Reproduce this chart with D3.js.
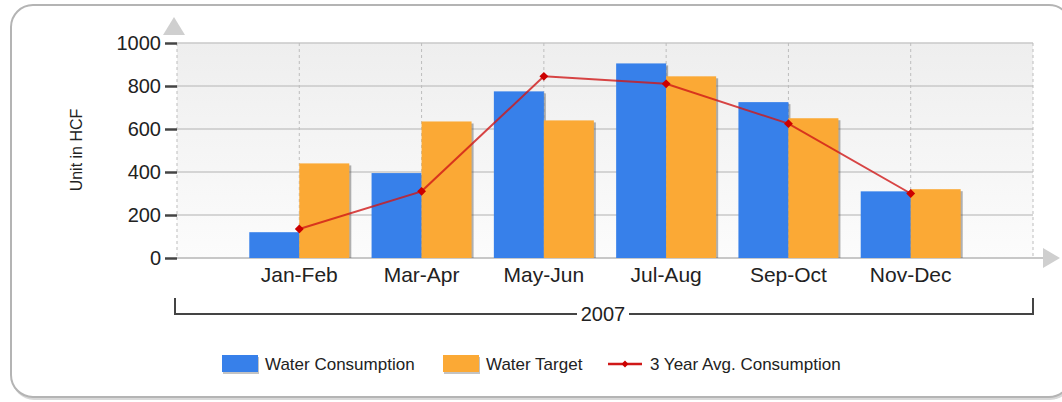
<!doctype html>
<html lang="en">
<head>
  <meta charset="utf-8">
  <title>Water Consumption 2007</title>
  <style>
    body { margin: 0; background: #fff; }
    #chart { width: 1062px; height: 402px; }
    text { font-family: "Liberation Sans", Arial, sans-serif; fill: #222; }
    .grid-h { stroke: #c8c8c8; stroke-width: 1.5; }
    .grid-v { stroke: #bdbdbd; stroke-dasharray: 3,3; }
  </style>
</head>
<body>
  <div id="chart"></div>
  <script src="https://d3js.org/d3.v7.min.js"></script>
  <script>
    // data
    const periods = ['Jan-Feb', 'Mar-Apr', 'May-Jun', 'Jul-Aug', 'Sep-Oct', 'Nov-Dec'];
    const consumption = [120, 395, 775, 905, 725, 310];
    const target = [440, 635, 640, 845, 650, 320];
    const avg3yr = [135, 310, 845, 810, 625, 300];
    const yTicks = [0, 200, 400, 600, 800, 1000];
    const yearLabel = '2007';
    const seriesNames = ['Water Consumption', 'Water Target', '3 Year Avg. Consumption'];

    const blue = '#3780ea', orange = '#fba935', red = '#d01818';

    const W = 1062, H = 402;
    const plot = { left: 177, right: 1033, top: 43, bottom: 258 };

    const svg = d3.select('#chart').append('svg')
      .attr('width', W).attr('height', H);

    const defs = svg.append('defs');
    const grad = defs.append('linearGradient').attr('id', 'bg')
      .attr('x1', 0).attr('y1', 0).attr('x2', 0).attr('y2', 1);
    grad.append('stop').attr('offset', '0%').attr('stop-color', '#eeeeee');
    grad.append('stop').attr('offset', '100%').attr('stop-color', '#fcfcfc');

    // outer frame with a soft shadow
    svg.append('rect')
      .attr('x', 12).attr('y', 7).attr('width', 1060).attr('height', 393)
      .attr('rx', 22).attr('fill', '#d8d8d8');
    svg.append('rect')
      .attr('x', 11).attr('y', 5).attr('width', 1060).attr('height', 392)
      .attr('rx', 22).attr('fill', '#fff')
      .attr('stroke', '#b4b4b4').attr('stroke-width', 2);

    const x = d3.scalePoint().domain(periods)
      .range([plot.left, plot.right]).padding(1);
    const y = d3.scaleLinear().domain([0, 1000])
      .range([plot.bottom, plot.top]);
    const barW = 50;

    // plot background
    svg.append('rect')
      .attr('x', plot.left).attr('y', plot.top)
      .attr('width', plot.right - plot.left).attr('height', plot.bottom - plot.top)
      .attr('fill', 'url(#bg)');

    // horizontal grid
    svg.append('g').selectAll('line')
      .data(yTicks.filter(d => d > 0))
      .join('line')
      .attr('class', 'grid-h')
      .attr('x1', plot.left).attr('x2', plot.right)
      .attr('y1', d => y(d)).attr('y2', d => y(d));

    // vertical dashed grid at each category and the right edge
    svg.append('g').selectAll('line')
      .data(periods.map(p => x(p)).concat([plot.left, plot.right]))
      .join('line')
      .attr('class', 'grid-v')
      .attr('x1', d => d).attr('x2', d => d)
      .attr('y1', plot.top).attr('y2', plot.bottom);

    // y axis: ticks and labels
    const yAxis = svg.append('g')
      .attr('transform', `translate(${plot.left},0)`)
      .call(d3.axisLeft(y).tickValues(yTicks).tickFormat(d3.format('d'))
        .tickSize(12).tickPadding(4));
    yAxis.select('.domain').remove();
    yAxis.selectAll('.tick line').attr('stroke', '#444').attr('stroke-width', 2.5);
    yAxis.selectAll('.tick text')
      .attr('font-size', 20).attr('fill', '#222')
      .style('font-family', '"Liberation Sans", Arial, sans-serif');

    // y axis up arrow
    svg.append('path')
      .attr('d', `M${plot.left - 3},17 L${plot.left + 8},35 L${plot.left - 14},35 Z`)
      .attr('fill', '#cfcfcf');

    // x axis line + arrow
    svg.append('line')
      .attr('x1', plot.left).attr('x2', plot.right + 10)
      .attr('y1', plot.bottom).attr('y2', plot.bottom)
      .attr('stroke', '#c8c8c8').attr('stroke-width', 2);
    svg.append('path')
      .attr('d', `M1043,${plot.bottom - 10} L1060,${plot.bottom} L1043,${plot.bottom + 10} Z`)
      .attr('fill', '#cfcfcf');

    // y axis title
    svg.append('text')
      .attr('transform', 'translate(82,150) rotate(-90)')
      .attr('text-anchor', 'middle')
      .attr('font-size', 16)
      .attr('fill', '#333')
      .text('Unit in HCF');

    // bars
    const bars = svg.append('g');
    const drawBars = (vals, color, dx) => {
      const g = bars.append('g');
      g.selectAll('rect.shadow')
        .data(vals)
        .join('rect')
        .attr('class', 'shadow')
        .attr('x', (d, i) => x(periods[i]) + dx + 2)
        .attr('y', d => y(d) + 2)
        .attr('width', barW)
        .attr('height', d => plot.bottom - y(d) - 2)
        .attr('fill', '#555').attr('opacity', 0.45);
      g.selectAll('rect.bar')
        .data(vals)
        .join('rect')
        .attr('class', 'bar')
        .attr('x', (d, i) => x(periods[i]) + dx)
        .attr('y', d => y(d))
        .attr('width', barW)
        .attr('height', d => plot.bottom - y(d))
        .attr('fill', color);
    };
    drawBars(consumption, blue, -barW);
    drawBars(target, orange, 0);

    // 3 year average line
    const line = d3.line()
      .x((d, i) => x(periods[i]))
      .y(d => y(d));
    svg.append('path')
      .datum(avg3yr)
      .attr('d', line)
      .attr('fill', 'none')
      .attr('stroke', red).attr('stroke-width', 2).attr('stroke-opacity', 0.8);
    svg.append('g').selectAll('path')
      .data(avg3yr)
      .join('path')
      .attr('transform', (d, i) => `translate(${x(periods[i])},${y(d)})`)
      .attr('d', d3.symbol(d3.symbolDiamond2, 50))
      .attr('fill', '#cc0000');

    // x labels
    svg.append('g').selectAll('text')
      .data(periods)
      .join('text')
      .attr('x', d => x(d))
      .attr('y', 282)
      .attr('text-anchor', 'middle')
      .attr('font-size', 21)
      .text(d => d);

    // year bracket
    const bracketY = 314;
    const yearG = svg.append('g');
    yearG.append('path')
      .attr('d', `M${plot.left - 2},298 V${bracketY} H${plot.right} V298`)
      .attr('fill', 'none').attr('stroke', '#444').attr('stroke-width', 2);
    yearG.append('rect')
      .attr('x', 577).attr('y', 302).attr('width', 52).attr('height', 24)
      .attr('fill', '#fff');
    yearG.append('text')
      .attr('x', 603).attr('y', bracketY + 7)
      .attr('text-anchor', 'middle')
      .attr('font-size', 20)
      .text(yearLabel);

    // legend
    const legendY = 364;
    const legendX = [222, 443, 608];
    const legend = svg.append('g').selectAll('g')
      .data(seriesNames)
      .join('g')
      .attr('transform', (d, i) => `translate(${legendX[i]},${legendY})`);
    legend.filter((d, i) => i < 2).append('rect')
      .attr('x', 1).attr('y', -7).attr('width', 36).attr('height', 17)
      .attr('fill', '#888').attr('opacity', 0.5);
    legend.filter((d, i) => i < 2).append('rect')
      .attr('x', 0).attr('y', -9).attr('width', 36).attr('height', 17)
      .attr('fill', (d, i) => [blue, orange][i]);
    const legLine = legend.filter((d, i) => i === 2);
    legLine.append('line')
      .attr('x1', 0).attr('x2', 34).attr('y1', 0).attr('y2', 0)
      .attr('stroke', red).attr('stroke-width', 2.5);
    legLine.append('path')
      .attr('transform', 'translate(17,0)')
      .attr('d', d3.symbol(d3.symbolDiamond2, 30))
      .attr('fill', '#cc0000');
    legend.append('text')
      .attr('x', (d, i) => i < 2 ? 43 : 42)
      .attr('y', 6)
      .attr('font-size', 17)
      .attr('fill', '#333')
      .text(d => d);
  </script>
</body>
</html>
